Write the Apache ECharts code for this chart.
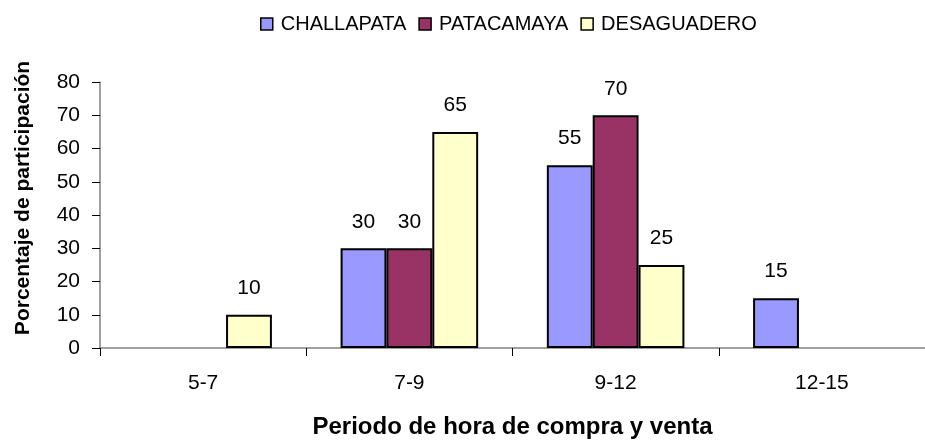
<!DOCTYPE html>
<html><head><meta charset="utf-8">
<script src="https://cdn.jsdelivr.net/npm/echarts@6/dist/echarts.min.js"></script>
<style>html,body{margin:0;padding:0;background:#fff}#c{width:925px;height:447px}</style>
</head><body><div id="c"></div>
<script>
const categories = ['5-7', '7-9', '9-12', '12-15'];
const seriesNames = ['CHALLAPATA', 'PATACAMAYA', 'DESAGUADERO'];
const challapata = [null, 30, 55, 15];
const patacamaya = [null, 30, 70, null];
const desaguadero = [10, 65, 25, null];
const yTicks = [0, 10, 20, 30, 40, 50, 60, 70, 80];
const colors = ['#9999FF', '#993366', '#FFFFCC'];
const values = [challapata, patacamaya, desaguadero];

const font = 'Liberation Sans, Arial, sans-serif';
const chart = echarts.init(document.getElementById('c'), null, {renderer: 'canvas'});
chart.setOption({
  animation: false,
  textStyle: {fontFamily: font},
  legend: {
    top: 9, left: 255,
    itemWidth: 12, itemHeight: 12, itemGap: 12,
    icon: 'rect',
    textStyle: {fontSize: 20, color: '#000', fontFamily: font, padding: [0, 0, 0, 3]},
    data: seriesNames.map((n, i) => ({name: n, itemStyle: {color: colors[i], borderColor: '#000', borderWidth: 1.5}}))
  },
  grid: {left: 100, width: 836, top: 82, bottom: 99, containLabel: false},
  xAxis: {
    type: 'category', data: categories,
    boundaryGap: true,
    axisLine: {lineStyle: {color: '#808080', width: 1.5}},
    axisTick: {show: true, alignWithLabel: false, length: 8, lineStyle: {color: '#000'}},
    axisLabel: {fontSize: 21, color: '#000', margin: 25, fontFamily: font},
    name: 'Periodo de hora de compra y venta',
    nameLocation: 'middle', nameGap: 67,
    nameTextStyle: {fontSize: 24, fontWeight: 'bold', color: '#000', fontFamily: font}
  },
  yAxis: {
    type: 'value', min: yTicks[0], max: yTicks[yTicks.length - 1], interval: 10,
    axisLine: {show: true, lineStyle: {color: '#808080', width: 1.5}},
    axisTick: {show: true, length: 8, lineStyle: {color: '#000'}},
    splitLine: {show: false},
    axisLabel: {fontSize: 21, color: '#000', margin: 20, fontFamily: font},
    name: 'Porcentaje de participación',
    nameLocation: 'middle', nameGap: 66, nameRotate: 90,
    nameTextStyle: {fontSize: 21, fontWeight: 'bold', color: '#000', fontFamily: font, padding: [0, 0, 0, 34]}
  },
  series: seriesNames.map((n, i) => ({
    name: n, type: 'bar', data: values[i],
    barGap: '0%', barCategoryGap: '33.3%',
    itemStyle: {color: colors[i], borderColor: '#000', borderWidth: 2},
    label: {show: true, position: 'top', distance: 16, fontSize: 21, color: '#000', fontFamily: font}
  }))
});
</script></body></html>
